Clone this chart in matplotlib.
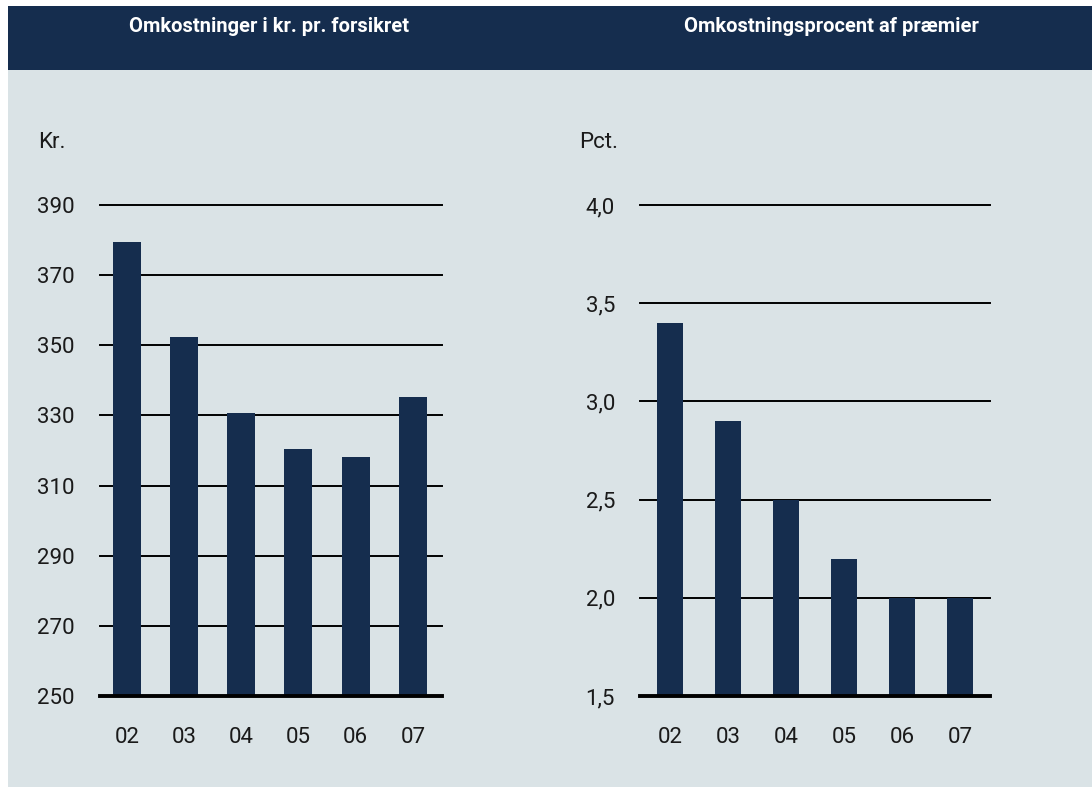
import matplotlib
matplotlib.use("Agg")
import matplotlib.pyplot as plt
from matplotlib.patches import Rectangle

plt.rcParams['font.family'] = ['Roboto', 'DejaVu Sans']

years = ["02", "03", "04", "05", "06", "07"]
kr_values = [379.5, 352.3, 330.6, 320.4, 318.1, 335.2]
pct_values = [3.4, 2.9, 2.5, 2.2, 2.0, 2.0]
kr_ticks = [250, 270, 290, 310, 330, 350, 370, 390]
pct_ticks = [1.5, 2.0, 2.5, 3.0, 3.5, 4.0]
title_left = "Omkostninger i kr. pr. forsikret"
title_right = "Omkostningsprocent af præmier"
unit_left = "Kr."
unit_right = "Pct."

NAVY = "#152d4e"
BG = "#dae3e6"
TXT = "#1a1a1a"

W, H = 1092, 787
fig = plt.figure(figsize=(W / 100, H / 100), dpi=100)
fig.patch.set_facecolor("white")

def fx(px):
    return px / W

def fy(py):
    return 1 - py / H

# background panel and header band
fig.patches.append(Rectangle((fx(8), 0), 1 - fx(8), fy(70), transform=fig.transFigure,
                             facecolor=BG, edgecolor="none", zorder=-2))
fig.patches.append(Rectangle((fx(8), fy(70)), 1 - fx(8), fy(6) - fy(70), transform=fig.transFigure,
                             facecolor=NAVY, edgecolor="none", zorder=-2))

fig.text(fx(269), fy(26), title_left, color="white", fontsize=14.5, fontweight="bold",
         ha="center", va="center")
fig.text(fx(831), fy(26), title_right, color="white", fontsize=14.5, fontweight="bold",
         ha="center", va="center")

fig.text(fx(38), fy(142), unit_left, color=TXT, fontsize=16, ha="left", va="center")
fig.text(fx(579), fy(142), unit_right, color=TXT, fontsize=16, ha="left", va="center")

ax_bottom = fy(696)
ax_h = (696 - 205) / H

def setup(ax, values, ticks, fmt, width, xlim):
    x = list(range(len(values)))
    ax.set_facecolor("none")
    ax.bar(x, [v - ticks[0] for v in values], bottom=ticks[0], width=width,
           color=NAVY, zorder=3)
    for t in ticks[1:]:
        ax.axhline(t, color="black", lw=1.4, zorder=1, clip_on=False)
    ax.axhline(ticks[0], color="black", lw=2.8, zorder=4, clip_on=False)
    ax.set_ylim(ticks[0], ticks[-1])
    ax.set_xlim(*xlim)
    ax.set_yticks(ticks)
    ax.set_yticklabels([fmt(t) for t in ticks])
    ax.set_xticks(x)
    ax.set_xticklabels(years)
    for s in ax.spines.values():
        s.set_visible(False)
    ax.tick_params(axis="y", length=0, pad=18, labelsize=16, labelcolor=TXT)
    ax.tick_params(axis="x", length=0, pad=22, labelsize=16, labelcolor=TXT)

ax1 = fig.add_axes([fx(100), ax_bottom, fx(442) - fx(100), ax_h])
setup(ax1, kr_values, kr_ticks, lambda t: f"{t:d}", 0.49, (-0.47, 5.51))

ax2 = fig.add_axes([fx(640), ax_bottom, fx(990) - fx(640), ax_h])
setup(ax2, pct_values, pct_ticks, lambda t: f"{t:.1f}".replace(".", ","), 0.45, (-0.517, 5.517))

fig.savefig("out.png", dpi=100, facecolor=fig.get_facecolor())
